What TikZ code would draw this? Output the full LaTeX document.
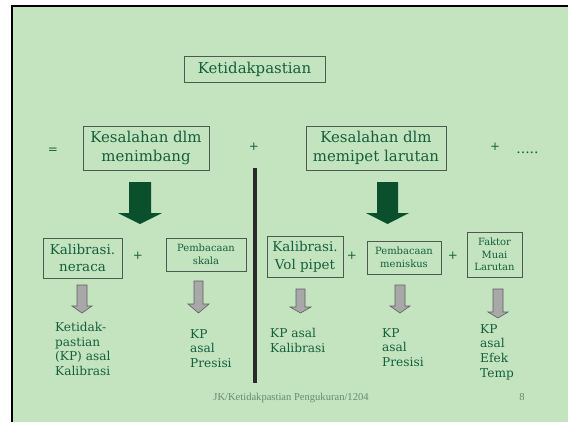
\documentclass[tikz,border=0pt]{standalone}
\usepackage{fontspec}
\setmainfont{DejaVu Serif}
\newfontfamily\footfont{Liberation Serif}
\definecolor{bg}{RGB}{196,228,192}
\definecolor{txt}{RGB}{20,94,58}
\definecolor{boxline}{RGB}{78,90,80}
\definecolor{darrow}{RGB}{10,80,45}
\definecolor{garrow}{RGB}{168,168,168}
\definecolor{gedge}{RGB}{95,95,95}
\definecolor{foot}{RGB}{100,140,110}
\definecolor{divider}{RGB}{43,43,43}
% x, y top, y head start, y tip, shaft half width, head half width, style
\newcommand{\blkarrow}[7]{%
  \path[#7] (#1-#5,#2) -- (#1+#5,#2) -- (#1+#5,#3) -- (#1+#6,#3) -- (#1,#4)
    -- (#1-#6,#3) -- (#1-#5,#3) -- cycle;}
\tikzset{
  boxbase/.style={draw=boxline, line width=0.9bp, text=txt, align=center, inner sep=0pt},
  bigbox/.style={boxbase, font=\fontsize{15}{19.5}\selectfont},
  lowbox/.style={boxbase, font=\fontsize{13.5}{18}\selectfont},
  smallbox/.style={boxbase, font=\fontsize{10}{12.5}\selectfont},
  resulttext/.style={text=txt, font=\fontsize{12.2}{14.8}\selectfont, align=left, anchor=north west, inner sep=0pt},
  optext/.style={text=txt, font=\fontsize{12}{14}\selectfont, inner sep=0pt},
  darkarrow/.style={fill=darrow},
  grayarrow/.style={fill=garrow, draw=gedge, line width=0.6bp},
  foottext/.style={text=foot, font=\footfont\fontsize{10.6}{12}\selectfont, inner sep=0pt, anchor=base},
}
\begin{document}
\begin{tikzpicture}[x=1bp,y=-1bp]
\useasboundingbox (0,0) rectangle (568,422);
% background
\fill[white] (0,0) rectangle (568,422);
\fill[bg] (11,5) rectangle (568,422);
\draw[black, line width=2.2bp] (12,422) -- (12,6) -- (568,6);

% top box
\node[bigbox, minimum width=141bp, minimum height=26bp] (top) at (254.5,69) {Ketidakpastian};

% second row
\node[optext] (eq) at (53,151) {=};
\node[bigbox, minimum width=126bp, minimum height=44bp] (kes1) at (146,148) {Kesalahan dlm\\menimbang};
\node[optext] (p1) at (254,147) {+};
\node[bigbox, minimum width=140bp, minimum height=44bp] (kes2) at (376,148) {Kesalahan dlm\\memipet larutan};
\node[optext] (p2) at (495,147) {+};
\node[optext, anchor=base, font=\fontsize{14}{14}\selectfont] (dots) at (527.5,153) {.....};

% divider
\draw[divider, line width=4bp] (255,168) -- (255,383);

% big arrows
\blkarrow{140}{182}{213}{224}{11}{22}{darkarrow}
\blkarrow{387.5}{182}{213}{224}{10.5}{21.5}{darkarrow}

% third row
\node[lowbox, minimum width=79bp, minimum height=40bp] (ner) at (82.5,258) {Kalibrasi.\\neraca};
\node[optext] (p3) at (138,256) {+};
\node[smallbox, minimum width=80bp, minimum height=33bp] (ska) at (206,254.5) {Pembacaan\\skala};
\node[lowbox, minimum width=76bp, minimum height=41bp] (vol) at (305,256.5) {Kalibrasi.\\Vol pipet};
\node[optext] (p4) at (352,256) {+};
\node[smallbox, minimum width=74bp, minimum height=33bp] (men) at (404,257.5) {Pembacaan\\meniskus};
\node[optext] (p5) at (453,256) {+};
\node[smallbox, minimum width=55bp, minimum height=45bp] (fak) at (494.5,254.5) {Faktor\\Muai\\Larutan};

% gray arrows
\blkarrow{82}{285}{306}{313}{5}{10}{grayarrow}
\blkarrow{198.5}{281}{304}{313}{4.5}{10.5}{grayarrow}
\blkarrow{300.5}{289}{307}{313}{4.5}{10.5}{grayarrow}
\blkarrow{400}{285}{306}{313}{5}{10}{grayarrow}
\blkarrow{498}{289}{312}{318}{5}{10}{grayarrow}

% results
\node[resulttext] (r1) at (55,322) {Ketidak-\\pastian\\(KP) asal\\Kalibrasi};
\node[resulttext] (r2) at (190,329) {KP\\asal\\Presisi};
\node[resulttext] (r3) at (270,328) {KP asal\\Kalibrasi};
\node[resulttext] (r4) at (382,328) {KP\\asal\\Presisi};
\node[resulttext] (r5) at (480,324) {KP\\asal\\Efek\\Temp};

% footer
\node[foottext] (foot) at (291,400) {JK/Ketidakpastian Pengukuran/1204};
\node[foottext] (page) at (522,400) {8};
\end{tikzpicture}
\end{document}
